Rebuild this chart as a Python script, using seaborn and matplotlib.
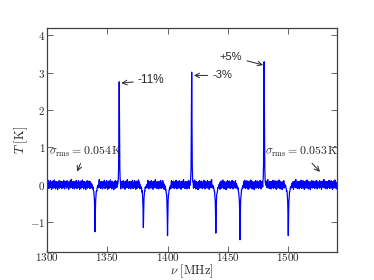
import numpy as np
import pandas as pd
import seaborn as sns
import matplotlib
matplotlib.use("Agg")
import matplotlib.pyplot as plt
from matplotlib.ticker import FuncFormatter

# line centres [MHz] and peak temperatures [K]
line_freq = [1340, 1360, 1380, 1400, 1420, 1440, 1460, 1480, 1500]
line_peak = [-1.30, 2.75, -1.19, -1.39, 3.00, -1.33, -1.46, 3.28, -1.41]

# relative line profiles (per 0.25 MHz channel, centred)
absorb_shape = [0.02, 0.03, 0.04, 0.05, 0.07, 0.09, 0.12, 0.16, 0.22, 0.32, 0.55,
                1.0, 0.55, 0.32, 0.22, 0.16, 0.12, 0.09, 0.07, 0.05, 0.04, 0.03, 0.02]
emit_shape = [0.03, 0.06, 0.15, 0.55, 1.0, 0.55, 0.15, 0.06, 0.03]

# baseline ripple [K], estimated
baseline_noise = [
    0.06, -0.04, 0.09, -0.07, 0.01, 0.12, -0.05, -0.10, 0.03, 0.07,
    -0.01, -0.08, 0.11, 0.02, -0.06, 0.04, -0.12, 0.08, 0.00, -0.03,
    0.10, -0.09, 0.05, 0.01, -0.07, 0.13, -0.02, -0.04, 0.07, -0.11,
    0.03, 0.09, -0.08, 0.02, -0.01, 0.06, -0.13, 0.08, 0.04, -0.05,
    0.00, 0.11, -0.09, 0.03, -0.03, 0.07, -0.07, 0.10, -0.02, 0.01,
    -0.10, 0.04, 0.08, -0.04, 0.02, -0.08, 0.12, -0.01, 0.05, -0.11,
    0.09, -0.03, 0.00, 0.07, -0.06, 0.03, -0.09, 0.11, -0.02, 0.04,
    -0.07, 0.08, 0.01, -0.12, 0.05, -0.01, 0.10, -0.04, 0.02, -0.08,
    0.07, 0.14, -0.03, -0.07, 0.04, 0.00, -0.10, 0.09, -0.02, 0.03,
    -0.05, 0.08, -0.11,
]

rms_text = [r"$\sigma_{\rm rms} = 0.054\,{\rm K}$", r"$\sigma_{\rm rms} = 0.053\,{\rm K}$"]
pct_labels = ["-11%", "-3%", "+5%"]

chan = 0.25
freq = np.arange(1300, 1540 + chan / 2, chan)
spec = np.resize(np.array(baseline_noise), freq.size)
for f0, amp in zip(line_freq, line_peak):
    shape = emit_shape if amp > 0 else absorb_shape
    i0 = int(round((f0 - 1300) / chan))
    h = len(shape) // 2
    spec[i0 - h:i0 + h + 1] = spec[i0 - h:i0 + h + 1] * 0.4 + amp * np.array(shape)

df = pd.DataFrame({"nu": freq, "T": spec})

sns.set_style("ticks")
plt.rcParams["mathtext.fontset"] = "cm"
plt.rcParams["font.family"] = ["Liberation Sans", "DejaVu Sans"]
plt.rcParams["xtick.direction"] = "in"
plt.rcParams["ytick.direction"] = "in"

fig, ax = plt.subplots(figsize=(3.74, 2.80), dpi=100)
fig.subplots_adjust(left=0.125, right=0.9, bottom=0.1, top=0.9)

sns.lineplot(data=df, x="nu", y="T", color="b", lw=0.9, estimator=None, ax=ax)

ax.set_xlim(1300, 1540)
ax.set_ylim(-1.8, 4.2)
ax.set_xticks([1300, 1350, 1400, 1450, 1500])
ax.set_yticks([-1, 0, 1, 2, 3, 4])
fmt = FuncFormatter(lambda v, p: r"$%d$" % v)
ax.xaxis.set_major_formatter(fmt)
ax.yaxis.set_major_formatter(fmt)
ax.tick_params(top=True, right=True, length=4, width=0.6, labelsize=8, color="0.3")
ax.tick_params(axis="x", pad=-1)
ax.tick_params(axis="y", pad=1)
for s in ax.spines.values():
    s.set_linewidth(0.9)
    s.set_color("0.25")

ax.set_xlabel(r"$\nu\ [\mathrm{MHz}]$", fontsize=9, labelpad=0)
ax.set_ylabel(r"$T\ [\mathrm{K}]$", fontsize=9, labelpad=0)

arrow = dict(arrowstyle="->", color="0.15", lw=0.7, shrinkA=1, shrinkB=1)
ax.annotate(pct_labels[0], xy=(1360.6, 2.72), xytext=(1375.5, 2.8),
            ha="left", va="center", fontsize=8.5, arrowprops=arrow)
ax.annotate(pct_labels[1], xy=(1420.8, 2.93), xytext=(1437, 2.93),
            ha="left", va="center", fontsize=8, arrowprops=arrow)
ax.annotate(pct_labels[2], xy=(1480.2, 3.2), xytext=(1452.7, 3.43),
            ha="center", va="center", fontsize=8, arrowprops=arrow)
ax.annotate(rms_text[0], xy=(1324.7, 0.32), xytext=(1332, 0.88),
            ha="center", va="center", fontsize=8.5, arrowprops=arrow)
ax.annotate(rms_text[1], xy=(1527, 0.32), xytext=(1511, 0.88),
            ha="center", va="center", fontsize=8.5, arrowprops=arrow)

fig.savefig("out.png", dpi=100)
